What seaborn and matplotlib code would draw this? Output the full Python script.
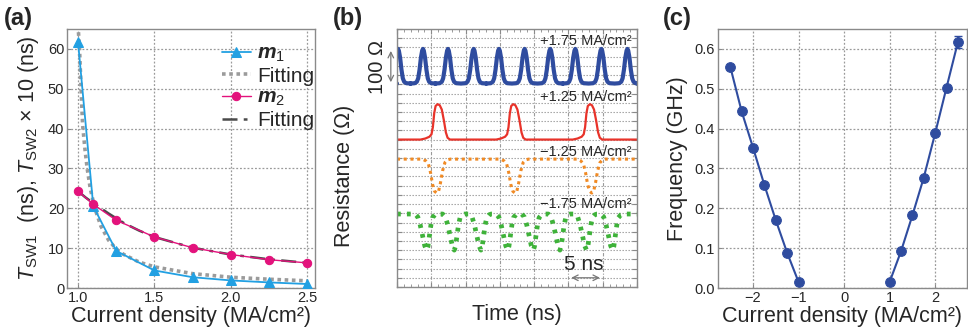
import matplotlib
matplotlib.use("Agg")
import matplotlib.pyplot as plt
import seaborn as sns
import numpy as np

# ---- panel (a): switching time vs current density ----
j_pts = [1.0, 1.1, 1.25, 1.5, 1.75, 2.0, 2.25, 2.5]
t_sw1 = [61.8, 20.5, 9.3, 4.4, 2.7, 1.9, 1.4, 1.0]
t_sw2 = [24.3, 21.0, 17.0, 12.8, 10.1, 8.4, 7.1, 6.3]

fit1_j = [1.0, 1.01, 1.02, 1.03, 1.045, 1.06, 1.08, 1.11, 1.15, 1.2, 1.25, 1.3, 1.4, 1.5, 1.75, 2.0, 2.25, 2.5]
fit1_t = [66, 60, 50, 41, 35, 30, 25, 20, 15.5, 12, 9.8, 8.4, 6.5, 5.3, 3.6, 2.7, 2.2, 1.8]
fit2_j = [1.0, 1.05, 1.1, 1.2, 1.3, 1.4, 1.5, 1.75, 2.0, 2.25, 2.5]
fit2_t = [24.3, 22.7, 21.3, 18.7, 16.3, 14.4, 12.8, 10.1, 8.4, 7.2, 6.3]

# ---- panel (b): resistance traces (peak/dip times in ns, pulse shapes) ----
blue_peaks = [0.15, 3.79, 7.43, 11.18, 14.87, 18.61, 22.35, 26.0, 29.8, 33.6]
blue_off = [-1.85, -1.2, -0.9, -0.7, -0.5, -0.3, -0.12, 0.0, 0.12, 0.3, 0.5, 0.7, 0.9, 1.2, 1.85]
blue_shape = [0.0, 0.01, 0.05, 0.15, 0.4, 0.75, 0.95, 1.0, 0.95, 0.75, 0.4, 0.15, 0.05, 0.01, 0.0]
blue_base, blue_amp = 552, 94

red_peaks = [5.93, 16.96, 28.13]
red_off = [-2.5, -1.8, -1.2, -0.9, -0.7, -0.5, -0.3, 0.0, 0.3, 0.6, 0.9, 1.2, 1.45, 1.8]
red_shape = [0.0, 0.03, 0.08, 0.15, 0.35, 0.75, 0.95, 1.0, 0.97, 0.85, 0.55, 0.2, 0.05, 0.0]
red_base, red_amp = 400, 96

orange_dips = [5.79, 17.2, 28.4]
orange_off = [-2.1, -1.6, -1.2, -0.9, -0.6, -0.3, 0.0, 0.25, 0.55, 0.85, 1.2, 1.6, 2.0]
orange_shape = [0.0, 0.05, 0.15, 0.4, 0.75, 0.95, 1.0, 0.97, 0.7, 0.35, 0.1, 0.02, 0.0]
orange_base, orange_amp = 347, 92

green_dips = [4.33, 8.35, 12.24, 16.14, 19.87, 23.76, 27.65, 31.44]
green_off = [-1.7, -1.3, -0.95, -0.6, -0.28, 0.0, 0.18, 0.4, 0.62, 0.85, 1.2, 1.5]
green_shape = [0.0, 0.08, 0.3, 0.6, 0.88, 1.0, 0.9, 0.6, 0.3, 0.1, 0.02, 0.0]
green_base, green_amp = 198, 98

trace_labels = ["+1.75 MA/cm²", "+1.25 MA/cm²", "\u22121.25 MA/cm²", "\u22121.75 MA/cm²"]

# ---- panel (c): oscillation frequency ----
j_neg = [-2.5, -2.25, -2.0, -1.75, -1.5, -1.25, -1.0]
f_neg = [0.555, 0.443, 0.352, 0.258, 0.170, 0.088, 0.015]
j_pos = [1.0, 1.25, 1.5, 1.75, 2.0, 2.25, 2.5]
f_pos = [0.015, 0.092, 0.182, 0.277, 0.388, 0.503, 0.617]
f_err_pos = [0, 0, 0, 0, 0, 0, 0.015]

sns.set_style("ticks")
plt.rcParams["font.family"] = ["Liberation Sans", "DejaVu Sans"]
plt.rcParams["mathtext.fontset"] = "custom"
plt.rcParams["mathtext.rm"] = "Liberation Sans"
plt.rcParams["mathtext.it"] = "Liberation Sans:italic"
plt.rcParams["mathtext.bf"] = "Liberation Sans:bold:italic"

BLUE_A = "#22a0e2"
PINK = "#e3127c"
DARK_BLUE = "#2f4c9f"
SPINE = "#8a8a8a"
LABEL_FS = 15.5


def style_axes(ax):
    for s in ax.spines.values():
        s.set_color(SPINE)
        s.set_linewidth(1.0)
    ax.tick_params(direction="in", length=3, color=SPINE, labelsize=10.5, pad=2)
    ax.grid(True, linestyle=(0, (1.5, 1.5)), color="#9a9a9a", linewidth=0.9)
    ax.set_axisbelow(True)


def build_trace(events, offsets, shape, base, amp, sign, t_end=35.0):
    ts, ys = [0.0], [base]
    for e in events:
        for o, s in zip(offsets, shape):
            ts.append(e + o)
            ys.append(base + sign * amp * s)
    ts.append(t_end)
    ys.append(base)
    return ts, ys


fig = plt.figure(figsize=(9.68, 3.3), dpi=100)
ax_a = fig.add_axes([67 / 968, 42 / 330, 248 / 968, 259 / 330])
ax_b = fig.add_axes([397 / 968, 43 / 330, 240 / 968, 258 / 330])
ax_c = fig.add_axes([718 / 968, 42 / 330, 249 / 968, 259 / 330])

# (a)
style_axes(ax_a)
sns.lineplot(x=j_pts, y=t_sw1, ax=ax_a, color=BLUE_A, marker="^", markersize=7,
             markeredgecolor=BLUE_A, linewidth=1.3, label=r"$\mathbf{m}_1$", zorder=3)
sns.lineplot(x=fit1_j, y=fit1_t, ax=ax_a, color="#9b9b9b", linestyle=(0, (1, 1)),
             linewidth=2.6, label="Fitting", zorder=2)
sns.lineplot(x=j_pts, y=t_sw2, ax=ax_a, color=PINK, marker="o", markersize=6,
             markeredgecolor=PINK, linewidth=1.0, label=r"$\mathbf{m}_2$", zorder=3)
sns.lineplot(x=fit2_j, y=fit2_t, ax=ax_a, color="#4a4a4a", linestyle=(0, (6, 2.5, 1.5, 2.5)),
             linewidth=1.8, label="Fitting", zorder=2)
ax_a.set_xlim(0.928, 2.55)
ax_a.set_ylim(0, 65)
ax_a.set_xticks([1.0, 1.5, 2.0, 2.5])
ax_a.set_xticklabels(["1.0", "1.5", "2.0", "2.5"])
ax_a.set_yticks(range(0, 61, 10))
ax_a.set_xlabel("Current density (MA/cm²)", fontsize=LABEL_FS)
ax_a.xaxis.set_label_coords(0.5, -0.11)
ax_a.xaxis.label.set_va("center")
ax_a.set_ylabel(r"$T_{\mathrm{SW1}}$  (ns), $T_{\mathrm{SW2}}$ × 10 (ns)", fontsize=LABEL_FS, labelpad=5)
ax_a.legend(loc="upper right", bbox_to_anchor=(1.03, 0.975), frameon=False, fontsize=15,
            handlelength=1.4, handletextpad=0.3, labelspacing=0.12, borderaxespad=0.0)

# (b)
for s in ax_b.spines.values():
    s.set_color(SPINE)
    s.set_linewidth(1.0)
ax_b.set_xlim(0, 35)
ax_b.set_ylim(0, 700)
ax_b.set_xticks(np.arange(0, 36, 5))
ax_b.set_xticks(np.arange(0, 36, 1), minor=True)
ax_b.set_yticks(np.arange(0, 701, 25))
ax_b.tick_params(which="both", direction="in", length=2.5, color=SPINE,
                 labelbottom=False, labelleft=False, top=True, right=True)
ax_b.tick_params(which="major", length=3.5)
ax_b.grid(True, axis="y", linestyle=(0, (1.2, 1.5)), color="#9a9a9a", linewidth=0.8)
ax_b.grid(True, axis="x", linestyle=(0, (3, 1.5, 1, 1.5)), color="#9a9a9a", linewidth=0.8)
ax_b.set_axisbelow(True)

bt, by = build_trace(blue_peaks, blue_off, blue_shape, blue_base, blue_amp, 1)
sns.lineplot(x=bt, y=by, ax=ax_b, color=DARK_BLUE, linewidth=3.0, sort=False, estimator=None)
rt, ry = build_trace(red_peaks, red_off, red_shape, red_base, red_amp, 1)
sns.lineplot(x=rt, y=ry, ax=ax_b, color="#e8332a", linewidth=1.6, sort=False, estimator=None)
ot, oy = build_trace(orange_dips, orange_off, orange_shape, orange_base, orange_amp, -1)
sns.lineplot(x=ot, y=oy, ax=ax_b, color="#f08a24", linewidth=2.2, linestyle=(0, (1, 1.2)),
             sort=False, estimator=None)
gt, gy = build_trace(green_dips, green_off, green_shape, green_base, green_amp, -1)
sns.lineplot(x=gt, y=gy, ax=ax_b, color="#3fb23a", linewidth=3.4, linestyle=(0, (0.8, 1.3)),
             sort=False, estimator=None)
ax_b.set_xlabel("")
ax_b.set_ylabel("")

for lab, yv in zip(trace_labels, [667, 516, 366, 225]):
    ax_b.text(34.2, yv, lab, ha="right", va="center", fontsize=10.5)

ax_b.annotate("", xy=(25, 25), xytext=(30, 25),
              arrowprops=dict(arrowstyle="<->", color="#777777", lw=0.9))
ax_b.text(27.3, 62, "5 ns", ha="center", va="center", fontsize=15)
ax_b.annotate("", xy=(-0.9, 648), xytext=(-0.9, 548), annotation_clip=False,
              arrowprops=dict(arrowstyle="<->", color="#777777", lw=0.9))
ax_b.text(-2.9, 597, "100 Ω", rotation=90, ha="center", va="center", fontsize=14.5)
ax_b.text(0.5, -0.108, "Time (ns)", transform=ax_b.transAxes, ha="center", va="center",
          fontsize=LABEL_FS)
ax_b.text(-0.217, 0.43, "Resistance (Ω)", transform=ax_b.transAxes, rotation=90,
          ha="center", va="center", fontsize=LABEL_FS)

# (c)
style_axes(ax_c)
sns.lineplot(x=j_neg, y=f_neg, ax=ax_c, color=DARK_BLUE, marker="o", markersize=7,
             markeredgecolor=DARK_BLUE, linewidth=1.5)
sns.lineplot(x=j_pos, y=f_pos, ax=ax_c, color=DARK_BLUE, marker="o", markersize=7,
             markeredgecolor=DARK_BLUE, linewidth=1.5)
ax_c.errorbar(j_pos, f_pos, yerr=f_err_pos, fmt="none", ecolor=DARK_BLUE, elinewidth=1.2, capsize=3)
ax_c.set_xlim(-2.77, 2.7)
ax_c.set_ylim(0, 0.65)
ax_c.set_xticks([-2, -1, 0, 1, 2])
ax_c.set_xticklabels(["\u22122", "\u22121", "0", "1", "2"])
ax_c.set_yticks(np.arange(0, 0.61, 0.1))
ax_c.set_yticklabels([f"{v:.1f}" for v in np.arange(0, 0.61, 0.1)])
ax_c.set_xlabel("Current density (MA/cm²)", fontsize=LABEL_FS)
ax_c.xaxis.set_label_coords(0.5, -0.11)
ax_c.xaxis.label.set_va("center")
ax_c.set_ylabel("Frequency (GHz)", fontsize=LABEL_FS, labelpad=5)

for lab, xp in zip(["(a)", "(b)", "(c)"], [4, 333, 663]):
    fig.text(xp / 968, 1 - 18 / 330, lab, fontsize=17, fontweight="bold", ha="left", va="center")

fig.savefig("out.png", dpi=100)
